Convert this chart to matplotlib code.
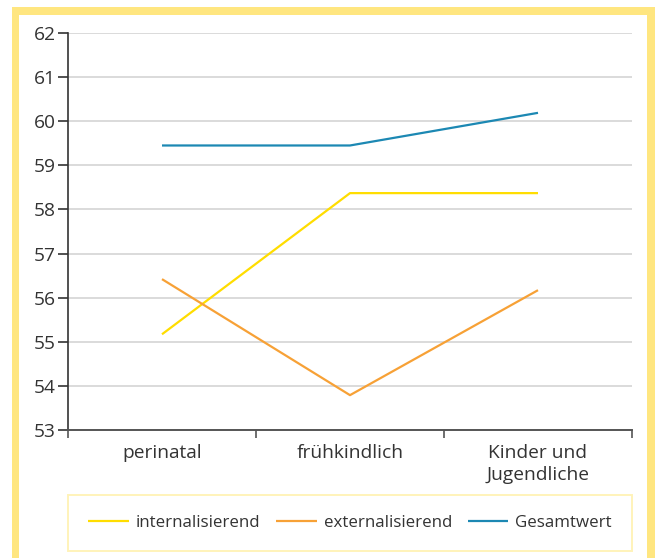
import matplotlib
matplotlib.use("Agg")
import matplotlib.pyplot as plt
from matplotlib.patches import Rectangle

categories = ["perinatal", "frühkindlich", "Kinder und\nJugendliche"]
internalisierend = [55.17, 58.37, 58.37]
externalisierend = [56.42, 53.79, 56.17]
gesamtwert = [59.45, 59.45, 60.19]
series_names = ["internalisierend", "externalisierend", "Gesamtwert"]
yticks = [53, 54, 55, 56, 57, 58, 59, 60, 61, 62]

colors = ["#FFDD00", "#F7A136", "#1C88B3"]
txt = "#333333"

plt.rcParams['font.family'] = ['Open Sans', 'DejaVu Sans']

W, H = 655, 558
fig = plt.figure(figsize=(W/100, H/100), dpi=100)
fig.patch.set_facecolor("white")

def px(x0, y0, w, h):
    return (x0/W, 1 - (y0+h)/H, w/W, h/H)

# yellow frame
fc = "#FFE680"
for (x0, y0, w, h) in [(12, 7, 643, 8), (12, 7, 7, 560), (647, 7, 8, 560)]:
    l, b, ww, hh = px(x0, y0, w, h)
    fig.add_artist(Rectangle((l, b), ww, hh, transform=fig.transFigure,
                             facecolor=fc, edgecolor="none", zorder=0))

ax = fig.add_axes(px(68, 33, 564, 397))
ax.set_facecolor("white")
xs = list(range(len(categories)))
for vals, c, name in zip([internalisierend, externalisierend, gesamtwert], colors, series_names):
    ax.plot(xs, vals, color=c, lw=1.6, label=name, solid_capstyle="butt", zorder=3)

ax.set_xlim(-0.5, len(categories)-0.5)
ax.set_ylim(53, 62)
ax.set_yticks(yticks)
ax.set_yticklabels([str(v) for v in yticks])
ax.yaxis.grid(True, color="#DADADA", lw=1.4, zorder=0)
ax.set_axisbelow(True)

ax.set_xticks(xs)
ax.set_xticklabels(categories, linespacing=1.3)
ax.set_xticks([i - 0.5 for i in range(len(categories)+1)], minor=True)
ax.tick_params(axis="x", which="major", length=0, pad=10, labelsize=13.8, labelcolor=txt)
ax.tick_params(axis="x", which="minor", length=6, width=1.2, color="#555555", direction="out")
ax.tick_params(axis="y", length=7, width=1.2, color="#333333", pad=2, labelsize=13.8, labelcolor=txt)

for s in ["top", "right"]:
    ax.spines[s].set_visible(False)
ax.spines["left"].set_color("#333333")
ax.spines["left"].set_linewidth(1.2)
ax.spines["bottom"].set_color("#555555")
ax.spines["bottom"].set_linewidth(1.4)

l, b, w, h = px(68, 493, 564, 60)
leg = fig.legend(*ax.get_legend_handles_labels(), loc="center", bbox_to_anchor=(l, b, w, h),
                 bbox_transform=fig.transFigure, ncol=3, mode="expand", frameon=True,
                 fancybox=False, edgecolor="#FFF0A8", fontsize=12.2,
                 handlelength=2.4, handletextpad=0.4, borderaxespad=0, borderpad=1.2,
                 columnspacing=1.0)
leg.get_frame().set_linewidth(1.4)
for t in leg.get_texts():
    t.set_color(txt)

fig.savefig("out.png", dpi=100)
